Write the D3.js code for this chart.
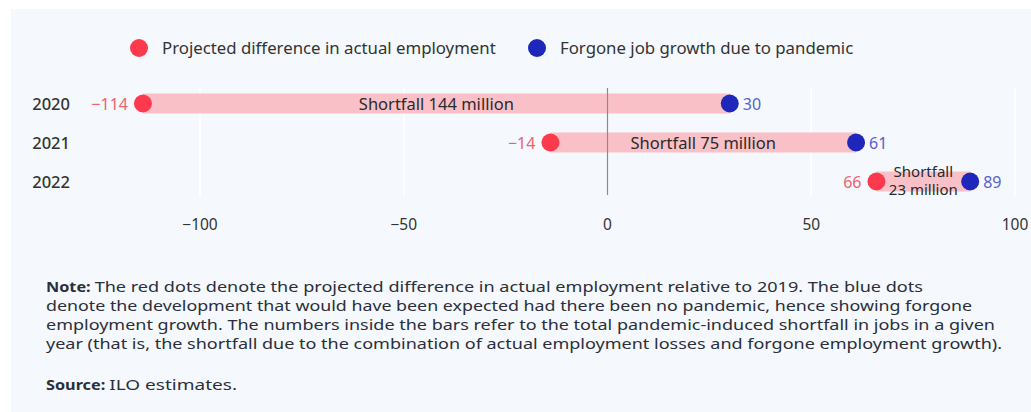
<!DOCTYPE html>
<html>
<head>
<meta charset="utf-8">
<script src="https://cdn.jsdelivr.net/npm/d3@7"></script>
<style>
  body { margin: 0; background: #fff; }
  svg { display: block; }
</style>
</head>
<body>
<div id="chart"></div>
<script>
// Data
const years = ["2020", "2021", "2022"];
const actual = [-114, -14, 66];      // projected difference in actual employment
const forgone = [30, 61, 89];        // forgone job growth due to pandemic
const shortfall = ["Shortfall 144 million", "Shortfall 75 million", "Shortfall\n23 million"];
const ticks = [-100, -50, 0, 50, 100];

const width = 1031, height = 412;
const red = "#fd3a4d", blue = "#1e27b9", pink = "#f9c1c7";
const font = "'Noto Sans', 'Open Sans', sans-serif";

const svg = d3.select("#chart").append("svg")
    .attr("width", width)
    .attr("height", height);

// panel background
svg.append("rect")
    .attr("x", 11).attr("y", 9)
    .attr("width", width - 11).attr("height", height - 9)
    .attr("fill", "#f5f9fd");

const x = d3.scaleLinear().domain([-100, 100]).range([200, 1015]);
const y = d3.scaleBand().domain(years).range([84, 201]).padding(0);
const cy = d => y(d.yr) + y.bandwidth() / 2;

// gridlines
svg.selectAll(".grid")
    .data(ticks.filter(t => t !== 0))
    .enter().append("line")
    .attr("x1", d => x(d)).attr("x2", d => x(d))
    .attr("y1", 88).attr("y2", 196)
    .attr("stroke", "#ffffff").attr("stroke-width", 1.5);

// x tick labels
svg.selectAll(".tick")
    .data(ticks)
    .enter().append("text")
    .attr("x", d => x(d))
    .attr("y", 230)
    .attr("text-anchor", "middle")
    .attr("font-family", font)
    .attr("font-size", 15.5)
    .attr("fill", "#333")
    .text(d => d < 0 ? "\u2212" + Math.abs(d) : d);

const rows = years.map((yr, i) => ({ yr, a: actual[i], f: forgone[i], s: shortfall[i] }));

// bars
svg.selectAll(".bar")
    .data(rows)
    .enter().append("rect")
    .attr("x", d => x(d.a))
    .attr("y", d => cy(d) - 10)
    .attr("width", d => x(d.f) - x(d.a))
    .attr("height", 20)
    .attr("fill", pink);

// zero line
svg.append("line")
    .attr("x1", x(0)).attr("x2", x(0))
    .attr("y1", 88).attr("y2", 195)
    .attr("stroke", "#8a8a8a").attr("stroke-width", 1.2);

// shortfall labels (one text per line)
rows.forEach(d => {
    const lines = d.s.split("\n");
    const cx = (x(d.a) + x(d.f)) / 2;
    lines.forEach((ln, j) => {
        svg.append("text")
            .attr("x", cx)
            .attr("y", cy(d) + 6 + (j - (lines.length - 1) / 2) * 18 - (lines.length - 1) * 1.5)
            .attr("text-anchor", "middle")
            .attr("font-family", font)
            .attr("font-size", lines.length > 1 ? 15 : 16.5)
            .attr("fill", "#2a2a2a")
            .text(ln);
    });
});

// year labels
svg.selectAll(".year")
    .data(rows)
    .enter().append("text")
    .attr("x", 70)
    .attr("y", d => cy(d) + 6)
    .attr("text-anchor", "end")
    .attr("font-family", font)
    .attr("font-size", 16.5)
    .attr("font-weight", 500)
    .attr("fill", "#333")
    .text(d => d.yr);

// dots
svg.selectAll(".dotA")
    .data(rows)
    .enter().append("circle")
    .attr("cx", d => x(d.a))
    .attr("cy", cy)
    .attr("r", 9)
    .attr("fill", red);

svg.selectAll(".dotF")
    .data(rows)
    .enter().append("circle")
    .attr("cx", d => x(d.f))
    .attr("cy", cy)
    .attr("r", 9)
    .attr("fill", blue);

// value labels
svg.selectAll(".valA")
    .data(rows)
    .enter().append("text")
    .attr("x", d => x(d.a) - 15)
    .attr("y", d => cy(d) + 6)
    .attr("text-anchor", "end")
    .attr("font-family", font)
    .attr("font-size", 16)
    .attr("fill", "#f0606f")
    .text(d => d.a < 0 ? "\u2212" + Math.abs(d.a) : d.a);

svg.selectAll(".valF")
    .data(rows)
    .enter().append("text")
    .attr("x", d => x(d.f) + 13)
    .attr("y", d => cy(d) + 6)
    .attr("font-family", font)
    .attr("font-size", 16)
    .attr("fill", "#5860cf")
    .text(d => d.f);

// legend
const legend = [
    { label: "Projected difference in actual employment", color: red, x: 139 },
    { label: "Forgone job growth due to pandemic", color: blue, x: 537 }
];
legend.forEach(l => {
    svg.append("circle").attr("cx", l.x).attr("cy", 48).attr("r", 9).attr("fill", l.color);
    svg.append("text")
        .attr("x", l.x + 23).attr("y", 54)
        .attr("font-family", font)
        .attr("font-size", 16.8)
        .attr("fill", "#333")
        .text(l.label);
});

// note and source: each line stretched to the reference line width
const noteLines = [
    ["Note:", "The red dots denote the projected difference in actual employment relative to 2019. The blue dots"],
    [null, "denote the development that would have been expected had there been no pandemic, hence showing forgone"],
    [null, "employment growth. The numbers inside the bars refer to the total pandemic-induced shortfall in jobs in a given"],
    [null, "year (that is, the shortfall due to the combination of actual employment losses and forgone employment growth)."],
    ["Source:", "ILO estimates."]
];
const noteEnds = [923, 972, 995, 1002, 237];
const noteY = [292, 311, 330, 349, 390];
const left = 46;
noteLines.forEach((parts, i) => {
    let start = left;
    if (parts[0]) {
        const b = svg.append("text")
            .attr("x", left).attr("y", noteY[i])
            .attr("font-family", font)
            .attr("font-size", 14.5)
            .attr("font-weight", "bold")
            .attr("fill", "#2b2f3a")
            .text(parts[0]);
        const w = b.node().getComputedTextLength() * 1.12;
        b.attr("textLength", w).attr("lengthAdjust", "spacingAndGlyphs");
        start = left + w + 4;
    }
    svg.append("text")
        .attr("x", start).attr("y", noteY[i])
        .attr("font-family", font)
        .attr("font-size", 14.5)
        .attr("textLength", noteEnds[i] - start)
        .attr("lengthAdjust", "spacingAndGlyphs")
        .attr("fill", "#2b2f3a")
        .text(parts[1]);
});
</script>
</body>
</html>
